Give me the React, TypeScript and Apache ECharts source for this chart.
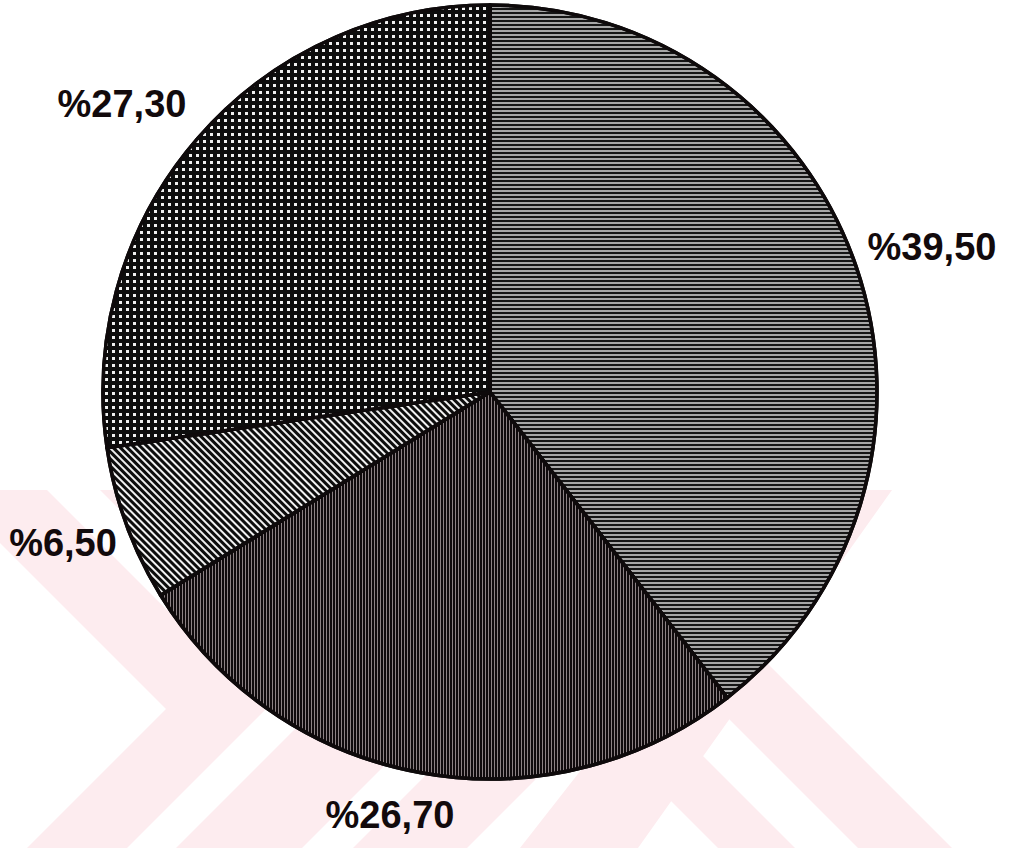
import React, { useEffect, useRef } from 'react';
import * as echarts from 'echarts';

// ---- data ----
const sliceNames = ['Grup 1', 'Grup 2', 'Grup 3', 'Grup 4'];
const sliceValues = [39.5, 26.7, 6.5, 27.3];

// ---- layout (label anchors, watermark) ----
const labelAnchors: number[][] = [
  [932, 247],
  [390, 815],
  [63, 543],
  [122, 104],
];

const watermarkBands: number[][][] = [
  [[-53, 490], [47, 490], [266, 709], [127, 848], [27, 848], [166, 709]],
  [[100, 490], [226, 490], [443, 707], [302, 848], [176, 848], [317, 707]],
  [[277, 490], [391, 490], [608, 707], [467, 848], [353, 848], [494, 707]],
  [[800, 490], [892, 490], [638, 848], [520, 848]],
  [[470, 600], [547, 600], [795, 848], [718, 848]],
  [[610, 600], [704, 600], [952, 848], [858, 848]],
];

const sliceStyles = [
  {
    color: '#a6a6a6',
    decal: {
      symbol: 'rect', symbolSize: 1, color: '#151515',
      dashArrayX: [1, 0], dashArrayY: [2, 1.6], rotation: 0,
    },
  },
  {
    color: '#8c8284',
    decal: {
      symbol: 'rect', symbolSize: 1, color: '#0f0a0c',
      dashArrayX: [1.5, 0.8], dashArrayY: [1, 0], rotation: 0,
    },
  },
  {
    color: '#f0f0f0',
    decal: {
      symbol: 'rect', symbolSize: 1, color: '#0d0d0d',
      dashArrayX: [1, 0], dashArrayY: [2.4, 1.8], rotation: Math.PI / 4,
    },
  },
  {
    color: '#0d0d0d',
    decal: {
      symbol: 'rect', symbolSize: 1, color: '#f0f0f0',
      dashArrayX: [2.5, 3.5], dashArrayY: [2.5, 3.5], rotation: 0,
    },
  },
];

const fmt = (v: number) => '%' + v.toFixed(2).replace('.', ',');

export default function App() {
  const ref = useRef<HTMLDivElement>(null);
  useEffect(() => {
    if (!ref.current) return;
    const chart = echarts.init(ref.current, undefined, { renderer: 'svg' });
    chart.setOption({
      animation: false,
      backgroundColor: '#ffffff',
      graphic: watermarkBands.map((pts) => ({
        type: 'polygon',
        z: 0,
        silent: true,
        shape: { points: pts },
        style: { fill: '#fdecef' },
      })),
      series: [
        {
          type: 'pie',
          z: 2,
          center: [490, 392],
          radius: 387,
          startAngle: 90,
          clockwise: true,
          avoidLabelOverlap: false,
          itemStyle: { borderColor: '#0e0a0b', borderWidth: 3.5 },
          label: {
            show: true,
            position: 'outside',
            formatter: (p: any) => fmt(p.value),
            fontFamily: '"Liberation Sans", Arial, sans-serif',
            fontWeight: 'bold',
            fontSize: 38,
            color: '#120a0c',
          },
          labelLine: { show: false },
          labelLayout: (params: any) => {
            const a = labelAnchors[params.dataIndex];
            return { x: a[0], y: a[1], align: 'center', verticalAlign: 'middle' };
          },
          emphasis: { disabled: true },
          data: sliceValues.map((v, i) => ({
            name: sliceNames[i],
            value: v,
            itemStyle: sliceStyles[i],
          })),
        },
      ],
    });
    return () => chart.dispose();
  }, []);
  return (
    <div
      ref={ref}
      style={{ position: 'absolute', left: 0, top: 0, width: 1010, height: 848 }}
    />
  );
}
